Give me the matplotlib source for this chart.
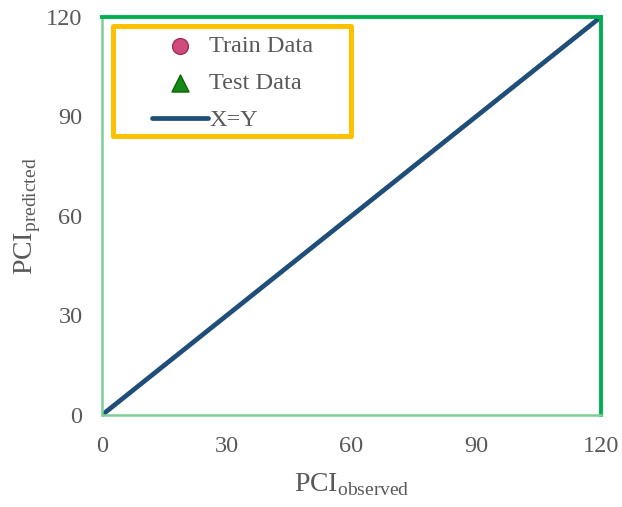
import matplotlib
matplotlib.use("Agg")
import matplotlib.pyplot as plt
from matplotlib.patches import Rectangle

# Data (no train/test points are visible in the reference)
train_obs = []
train_pred = []
test_obs = []
test_pred = []
line_xy = [0, 120]
ticks = [0, 30, 60, 90, 120]

plt.rcParams['font.family'] = ['Liberation Serif', 'DejaVu Serif']
plt.rcParams['mathtext.fontset'] = 'custom'
plt.rcParams['mathtext.rm'] = 'Liberation Serif'

grey = '#595959'

fig = plt.figure(figsize=(6.22, 5.07), dpi=100)
ax = fig.add_axes([0.164, 0.1815, 0.802, 0.785])

ax.scatter(train_obs, train_pred, marker='o', s=130, color='#D04A7E',
           edgecolors='#a03058', label='Train Data')
ax.scatter(test_obs, test_pred, marker='^', s=150, color='#138a13',
           edgecolors='#0a640a', label='Test Data')
ax.plot(line_xy, line_xy, color='#1F4E79', lw=3.4, solid_capstyle='round',
        label='X=Y')

ax.set_xlim(0, 120)
ax.set_ylim(0, 120)
ax.set_xticks(ticks)
ax.set_yticks(ticks)
ax.tick_params(length=0, labelsize=17.5, labelcolor=grey)
ax.tick_params(axis='x', pad=15)
ax.tick_params(axis='y', pad=14)

for side in ['top', 'right']:
    ax.spines[side].set_color('#00B050')
    ax.spines[side].set_linewidth(2.8)
for side in ['left', 'bottom']:
    ax.spines[side].set_color('#7ccf95')
    ax.spines[side].set_linewidth(1.8)

ax.set_xlabel(r'PCI$_{\mathrm{observed}}$', fontsize=20, color=grey, labelpad=10)
ax.set_ylabel(r'PCI$_{\mathrm{predicted}}$', fontsize=20, color=grey, labelpad=2)

# orange legend box
box = Rectangle((0.022, 0.701), 0.477, 0.276, transform=ax.transAxes,
                fill=True, facecolor='white', edgecolor='#FFC000', lw=3.6,
                joinstyle='round', zorder=4)
ax.add_patch(box)

leg = ax.legend(loc='upper left', bbox_to_anchor=(0.1, 0.955), borderaxespad=0,
                fontsize=17.5, frameon=False, handlelength=2.3,
                handletextpad=0.05, borderpad=0, labelspacing=0.62)
leg.set_zorder(5)
for t in leg.get_texts():
    t.set_color(grey)

fig.savefig('out.png', dpi=100)
